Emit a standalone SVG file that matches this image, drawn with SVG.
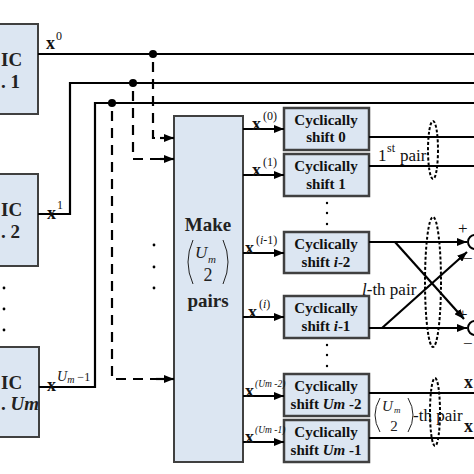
<svg xmlns="http://www.w3.org/2000/svg" width="474" height="474" viewBox="0 0 474 474">
<defs>
<marker id="ah" viewBox="0 0 10 8" refX="10" refY="4" markerWidth="10" markerHeight="8" markerUnits="userSpaceOnUse" orient="auto">
<path d="M0,0 L10,4 L0,8 Z" fill="#000"/>
</marker>
</defs>
<style>
.blk{fill:#dce6f2;stroke:#404040;stroke-width:2}
.cs{fill:#dce6f2;stroke:#404040;stroke-width:2.5}
.ln{fill:none;stroke:#000;stroke-width:2.2}
.ar{fill:none;stroke:#000;stroke-width:2.2;marker-end:url(#ah)}
.dsh{fill:none;stroke:#000;stroke-width:2.2;stroke-dasharray:10,7}
.dot{fill:none;stroke:#000;stroke-width:2;stroke-dasharray:3,2}
.t{font-family:"Liberation Serif",serif;font-weight:bold;font-size:15px;fill:#111}
.tb{font-family:"Liberation Serif",serif;font-weight:bold;font-size:19px;fill:#222}
.tn{font-family:"Liberation Serif",serif;font-size:17px;fill:#111}
.sup{font-family:"Liberation Serif",serif;font-size:12px;fill:#111}
.sm{font-family:"Liberation Serif",serif;font-size:9.5px;fill:#111;font-style:italic}
.lx{font-family:"Liberation Serif",serif;font-weight:bold;font-size:18px;fill:#111}
</style>
<rect width="474" height="474" fill="#fff"/>
<g id="block1"><rect class="blk" x="-20" y="24" width="58" height="90"/><text class="tb" x="1" y="66">IC</text><text class="tb" x="1" y="88">. 1</text></g>
<g id="block2"><rect class="blk" x="-20" y="174" width="58" height="92"/><text class="tb" x="1" y="216">IC</text><text class="tb" x="1" y="238">. 2</text></g>
<g id="block3"><rect class="blk" x="-20" y="347" width="59" height="90"/><text class="tb" x="1" y="389">IC</text><text class="tb" x="1" y="410">. <tspan font-style="italic">Um</tspan></text></g>
<g id="make"><rect class="blk" x="174" y="116" width="69" height="346"/>
<text class="tb" x="208" y="231" text-anchor="middle">Make</text>
<path d="M193,240 Q183,262 193,284 M223,240 Q233,262 223,284" fill="none" stroke="#222" stroke-width="1"/>
<text font-family="Liberation Serif,serif" font-style="italic" font-size="17" x="195" y="258" fill="#222">U</text><text font-family="Liberation Serif,serif" font-style="italic" font-size="11" x="208" y="263" fill="#222">m</text>
<text font-family="Liberation Serif,serif" font-size="18" x="208" y="281" text-anchor="middle" fill="#222">2</text>
<text class="tb" x="208" y="307" text-anchor="middle">pairs</text></g>
<g id="cs0"><rect class="cs" x="284" y="108" width="85" height="42"/><text class="t" x="326" y="125" text-anchor="middle">Cyclically</text><text class="t" x="326" y="142" text-anchor="middle">shift 0</text></g>
<g id="cs1"><rect class="cs" x="284" y="154" width="85" height="42"/><text class="t" x="326" y="171" text-anchor="middle">Cyclically</text><text class="t" x="326" y="189" text-anchor="middle">shift 1</text></g>
<g id="cs2"><rect class="cs" x="284" y="232" width="85" height="41"/><text class="t" x="326" y="249" text-anchor="middle">Cyclically</text><text class="t" x="326" y="267" text-anchor="middle">shift <tspan font-style="italic">i</tspan>-2</text></g>
<g id="cs3"><rect class="cs" x="284" y="296" width="85" height="42"/><text class="t" x="326" y="313" text-anchor="middle">Cyclically</text><text class="t" x="326" y="331" text-anchor="middle">shift <tspan font-style="italic">i</tspan>-1</text></g>
<g id="cs4"><rect class="cs" x="284" y="374" width="85" height="42"/><text class="t" x="326" y="391" text-anchor="middle">Cyclically</text><text class="t" x="326" y="409" text-anchor="middle">shift <tspan font-style="italic">Um</tspan> -2</text></g>
<g id="cs5"><rect class="cs" x="284" y="420" width="85" height="42"/><text class="t" x="326" y="437" text-anchor="middle">Cyclically</text><text class="t" x="326" y="455" text-anchor="middle">shift <tspan font-style="italic">Um</tspan> -1</text></g>
<g id="connectors">
<path class="ln" d="M38,54 H474 M38,214 H70 V83 H474 M39,387 H95 V103 H474"/>
<circle cx="153" cy="54" r="4" fill="#000"/><circle cx="133" cy="83" r="4" fill="#000"/><circle cx="112" cy="103" r="4" fill="#000"/>
<path class="dsh" d="M153,62 V138 H164"/><path class="ar" d="M160,138 H174"/>
<path class="dsh" d="M133,91 V159 H164"/><path class="ar" d="M160,159 H174"/>
<path class="dsh" d="M112,111 V379 H162"/><path class="ar" d="M156,379 H174"/>
<path class="ar" d="M243,129 H284"/><path class="ar" d="M243,175 H284"/><path class="ar" d="M243,253 H284"/><path class="ar" d="M243,317 H284"/><path class="ar" d="M243,396 H284"/><path class="ar" d="M243,442 H284"/>
<path class="ln" d="M369,137 H474 M369,166 H474 M369,393 H474 M369,438 H474"/>
<path class="ar" d="M369,242 H467"/><path class="ar" d="M369,328 H467"/>
<path class="ar" d="M395,242 L464,319"/><path class="ar" d="M382,328 L467,252"/>
<circle cx="475" cy="242" r="7" fill="none" stroke="#000" stroke-width="2"/><circle cx="475" cy="328" r="7" fill="none" stroke="#000" stroke-width="2"/>
<ellipse class="dot" cx="433" cy="150" rx="5" ry="29"/>
<ellipse class="dot" cx="433" cy="282" rx="8" ry="65"/>
<ellipse class="dot" cx="435" cy="412" rx="5" ry="34"/>
</g>
<g id="labels">
<text class="lx" x="46" y="49">x</text><text class="sup" x="56" y="40">0</text>
<text class="lx" x="47" y="219">x</text><text class="sup" x="57" y="209">1</text>
<text class="lx" x="47" y="391">x</text><text class="sup" x="57" y="381"><tspan font-style="italic" font-size="14">U</tspan><tspan font-style="italic" font-size="10" dy="2">m</tspan><tspan dy="-2"> −1</tspan></text>
<text class="lx" x="252" y="130">x</text><text class="sup" x="263" y="120">(0)</text>
<text class="lx" x="252" y="176">x</text><text class="sup" x="263" y="166">(1)</text>
<text class="lx" x="245" y="254">x</text><text class="sup" x="256" y="244">(<tspan font-style="italic">i</tspan>-1)</text>
<text class="lx" x="248" y="318">x</text><text class="sup" x="259" y="308">(<tspan font-style="italic">i</tspan>)</text>
<text class="lx" x="245" y="397">x</text><text class="sm" x="255" y="387">(Um -2)</text>
<text class="lx" x="245" y="443">x</text><text class="sm" x="255" y="433">(Um -1)</text>
<text class="tn" x="378" y="161">1</text><text class="sup" x="387" y="152">st</text><text class="tn" x="400" y="161">pair</text>
<text class="tn" x="362" y="295"><tspan font-style="italic">l</tspan>-th pair</text>
<path d="M380,398 Q370,415 380,432 M408,398 Q418,415 408,432" fill="none" stroke="#222" stroke-width="1"/>
<text font-family="Liberation Serif,serif" font-style="italic" font-size="15" x="382" y="411" fill="#222">U</text><text font-family="Liberation Serif,serif" font-style="italic" font-size="9" x="394" y="413" fill="#222">m</text>
<text font-family="Liberation Serif,serif" font-size="15" x="394" y="431" text-anchor="middle" fill="#222">2</text>
<text class="tn" x="413" y="421">-th pair</text>
<text class="lx" x="464" y="388">x</text><text class="lx" x="464" y="432">x</text>
<text class="tn" x="458" y="234">+</text><text class="tn" x="463" y="264">−</text>
<text class="tn" x="458" y="320">+</text><text class="tn" x="463" y="349">−</text>
<g fill="#000"><circle cx="327" cy="203" r="1.2"/><circle cx="327" cy="213" r="1.2"/><circle cx="327" cy="224" r="1.2"/>
<circle cx="327" cy="345" r="1.2"/><circle cx="327" cy="355" r="1.2"/><circle cx="327" cy="366" r="1.2"/>
<circle cx="154" cy="245" r="1.4"/><circle cx="154" cy="267" r="1.4"/><circle cx="154" cy="288" r="1.4"/>
<circle cx="4" cy="288" r="1.4"/><circle cx="4" cy="309" r="1.4"/><circle cx="4" cy="330" r="1.4"/></g>
</g>
</svg>
